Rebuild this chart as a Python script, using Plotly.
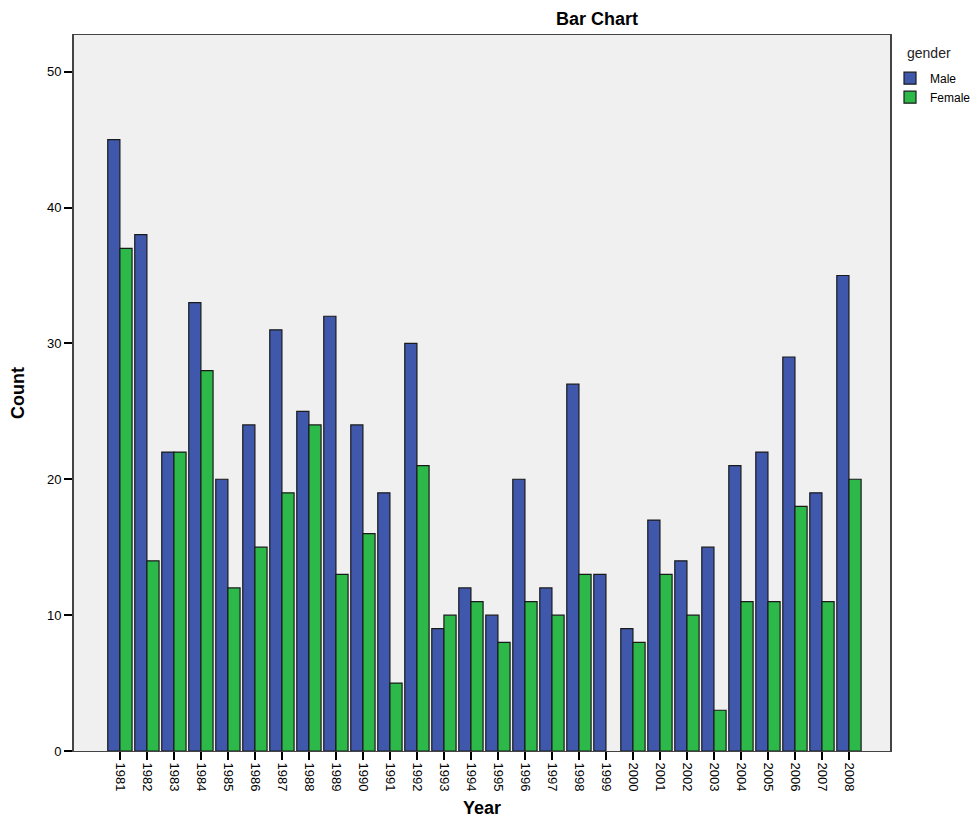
import plotly.graph_objects as go

years = [str(y) for y in range(1981, 2009)]
male = [45, 38, 22, 33, 20, 24, 31, 25, 32, 24, 19, 30, 9, 12, 10, 20, 12, 27, 13, 9, 17, 14, 15, 21, 22, 29, 19, 35]
female = [37, 14, 22, 28, 12, 15, 19, 24, 13, 16, 5, 21, 10, 11, 8, 11, 10, 13, 0, 8, 13, 10, 3, 11, 11, 18, 11, 20]

W, H = 971, 817  # page body has an 8px margin

fig = go.Figure()
fig.add_trace(go.Bar(x=years, y=male, name="Male",
                     marker=dict(color="#3f58ac", line=dict(color="#1a1a1a", width=[0 if v == 0 else 1.2 for v in male]))))
fig.add_trace(go.Bar(x=years, y=female, name="Female",
                     marker=dict(color="#2db84a", line=dict(color="#1a1a1a", width=[0 if v == 0 else 1.2 for v in female]))))

fig.add_annotation(text="gender", xref="paper", yref="paper", x=1.018, y=0.975,
                   xanchor="left", yanchor="middle", showarrow=False,
                   font=dict(size=14, color="#222"))

fig.update_layout(
    width=W, height=H,
    margin=dict(l=66, r=89, t=27, b=74, autoexpand=False),
    paper_bgcolor="white", plot_bgcolor="#f0f0f0",
    barmode="group", bargap=0.1, bargroupgap=0,
    font=dict(family="Liberation Sans, Arial, sans-serif", color="black", size=12),
    title=dict(text="<b>Bar Chart</b>", x=589 / W, xanchor="center", y=1 - 11 / H, yanchor="middle",
               font=dict(size=18, family="Liberation Sans, Arial, sans-serif")),
    showlegend=True,
    legend=dict(x=1.0, y=0.96, xanchor="left", yanchor="top",
                font=dict(size=12), bgcolor="rgba(0,0,0,0)",
                itemwidth=30, tracegroupgap=0),
)
fig.update_xaxes(
    type="category", range=[-1.7, 28.52], automargin=False,
    tickangle=90, ticks="outside", ticklen=8, tickcolor="black", tickwidth=2,
    tickfont=dict(size=13),
    showgrid=False, showline=True, linecolor="#444", linewidth=1, mirror=True,
    title=dict(text="<b>Year</b>", font=dict(size=18), standoff=10),
)
fig.update_yaxes(
    range=[0, 52.7], tickvals=[0, 10, 20, 30, 40, 50], automargin=False,
    ticks="outside", ticklen=8, tickcolor="black", tickwidth=2, tickfont=dict(size=13),
    showgrid=False, zeroline=False, showline=True, linecolor="#444", linewidth=2, mirror=True,
    title=dict(text="<b>Count</b>", font=dict(size=18), standoff=20),
)
fig.write_html("out.html")
